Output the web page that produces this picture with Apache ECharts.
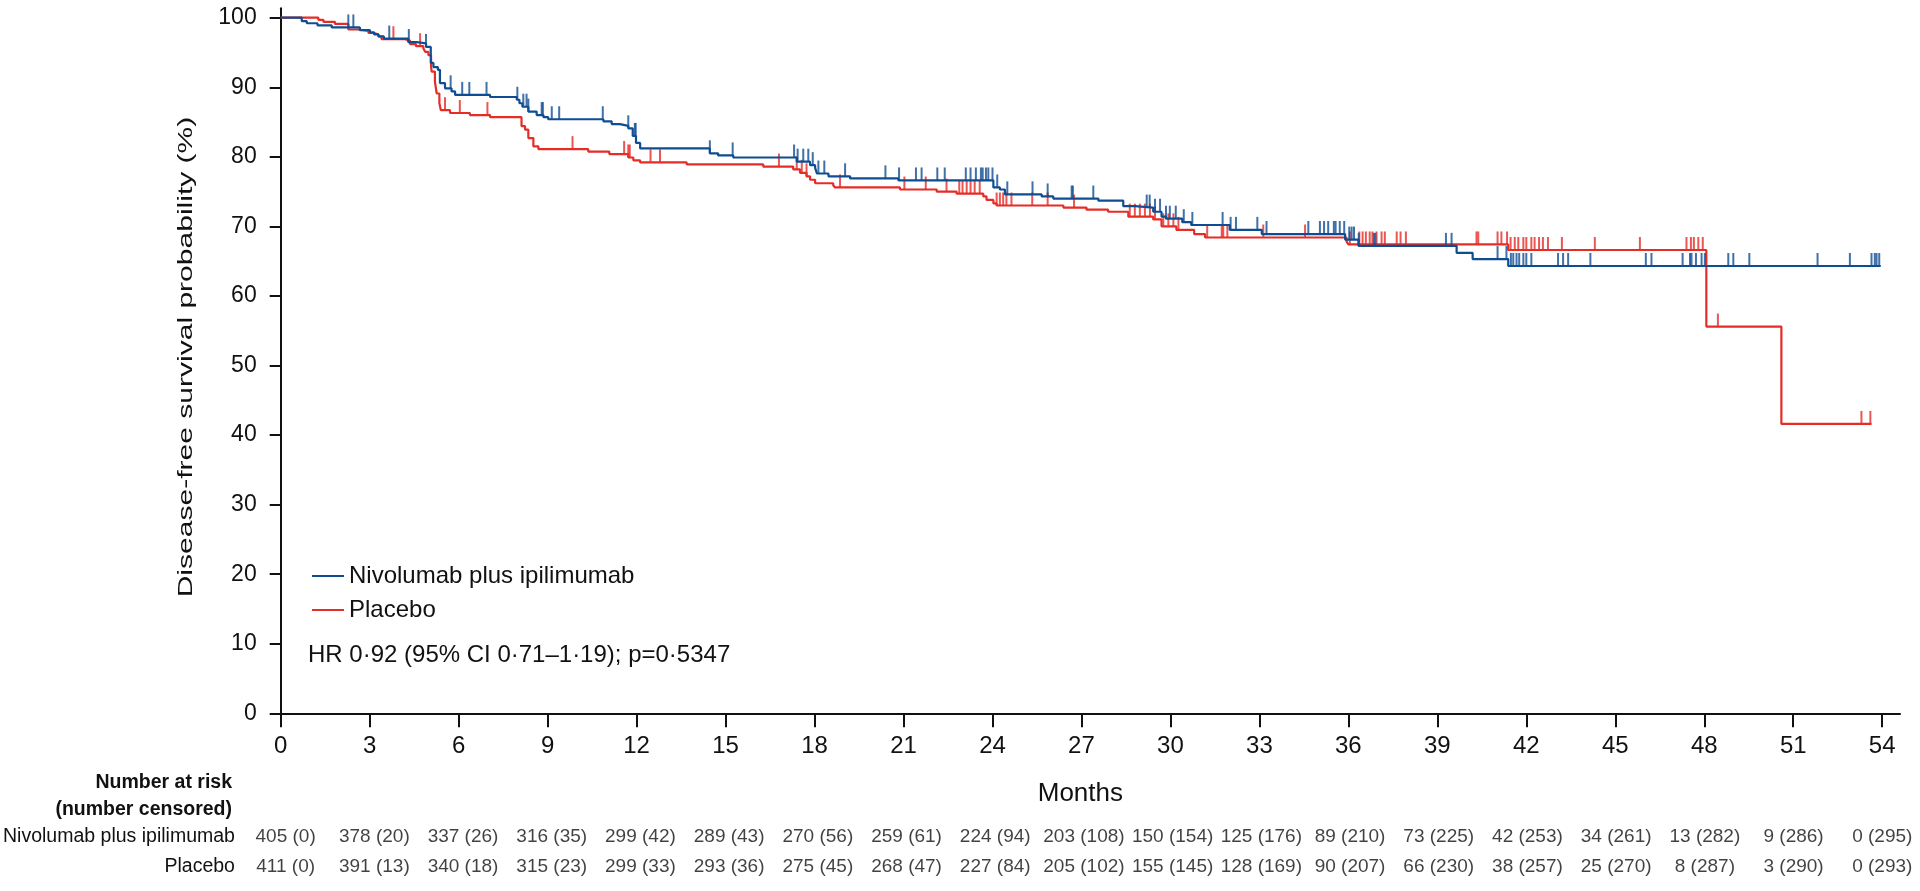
<!DOCTYPE html>
<html><head><meta charset="utf-8">
<script src="https://cdn.jsdelivr.net/npm/echarts@6/dist/echarts.min.js"></script>
<style>html,body{margin:0;padding:0;background:#fff}#c{width:1920px;height:891px}</style>
</head><body><div id="c"></div>
<script>
// ---------- data ----------
const monthTicks = [0,3,6,9,12,15,18,21,24,27,30,33,36,39,42,45,48,51,54];
const survTicks = [0,10,20,30,40,50,60,70,80,90,100];
const seriesNames = ['Nivolumab plus ipilimumab', 'Placebo'];

const nivoTimes = [0,0.71,0.88,1.24,1.72,2.67,3.01,3.15,3.3,3.48,4.3,4.58,4.9,5.06,5.15,5.3,5.37,5.54,5.76,5.88,7.06,7.96,8.05,8.15,8.35,8.63,8.86,9.02,10.88,11.16,11.44,11.72,11.87,11.98,12.12,14.47,14.75,15.26,17.4,17.85,18.02,18.08,18.47,19.2,20.83,24.03,24.25,24.42,25.66,26.05,27.57,28.41,28.81,29.42,29.7,29.85,30.4,30.7,32.0,33.08,35.89,36.34,39.65,40.19,41.39,53.95];
const nivoSurv = [100,99.5,99.2,98.9,98.6,98.2,97.9,97.6,97.3,97.0,96.5,96.3,95.8,93.5,92.9,92.5,90.6,89.85,89.4,88.9,88.6,88.2,87.7,87.2,86.5,86.0,85.7,85.4,85.1,84.7,84.45,84.1,83.0,82.0,81.2,80.5,80.2,79.9,79.3,78.8,78.4,77.6,77.2,76.9,76.6,75.6,75.3,74.6,74.3,74.0,73.7,72.9,72.7,72.1,71.4,71.1,70.6,70.2,69.5,68.9,68.1,67.2,66.2,65.3,64.3,64.3];

const placeboTimes = [0,1.27,1.44,1.83,2.28,2.62,2.96,3.13,3.29,3.4,4.19,4.36,4.56,4.81,4.87,4.98,5.07,5.09,5.2,5.26,5.35,5.4,5.71,6.38,7.06,8.12,8.24,8.35,8.52,8.69,10.37,11.08,11.72,11.89,12.12,13.69,16.27,17.28,17.51,17.73,17.85,18.02,18.63,18.69,20.88,22.12,22.79,23.69,23.8,24.03,24.14,26.39,27.17,27.9,28.58,29.42,29.7,30.2,30.8,31.17,35.94,36.0,41.39,48.07,50.6,53.64];
const placeboSurv = [100,99.7,99.4,99.1,98.3,98.1,97.8,97.6,97.3,96.9,96.7,96.2,95.9,95.6,95.1,94.6,93.0,92.25,90.8,89.1,87.7,86.7,86.3,86.0,85.7,84.4,83.9,82.7,81.5,81.1,80.75,80.4,79.9,79.5,79.2,78.9,78.6,78.2,77.7,77.2,76.7,76.2,75.9,75.6,75.3,75.0,74.7,74.3,73.8,73.3,73.0,72.7,72.4,72.1,71.4,71.0,70.0,69.5,68.9,68.4,67.8,67.4,66.6,55.6,41.6,41.6];

const nivoCensor = [2.28,2.45,3.66,4.32,4.9,5.37,5.73,6.12,6.36,6.94,7.98,8.18,8.29,8.35,8.8,8.84,9.14,9.39,10.86,11.72,11.94,11.97,14.47,15.24,17.31,17.43,17.62,17.79,17.94,18.13,18.33,19.03,20.39,20.85,21.42,21.61,22.14,22.39,23.1,23.26,23.44,23.61,23.67,23.78,23.86,24.0,24.16,24.5,25.35,25.86,26.67,26.71,27.4,29.2,29.3,29.48,29.65,29.85,29.98,30.18,30.45,30.74,31.76,32.03,32.21,32.93,33.24,34.65,35.04,35.18,35.32,35.51,35.57,35.71,35.86,36.03,36.11,36.19,36.35,36.86,36.91,39.29,39.48,41.03,41.33,41.48,41.56,41.67,41.76,41.9,42.0,42.17,43.07,43.24,43.41,44.16,46.03,46.22,47.27,47.52,47.57,47.72,47.91,48.02,48.81,48.98,49.52,51.82,52.91,53.64,53.75,53.81,53.9];
const placeboCensor = [3.8,4.7,5.54,6.04,6.97,9.84,11.58,11.72,11.77,12.47,12.79,16.8,17.4,17.57,17.73,18.86,21.03,21.75,22.45,22.88,22.99,23.13,23.26,23.4,23.57,24.14,24.25,24.36,24.47,24.64,25.34,25.86,26.75,28.63,28.8,28.97,29.14,29.31,29.48,29.76,29.93,30.1,30.27,31.24,31.73,31.78,31.92,33.13,34.54,36.05,36.37,36.48,36.59,36.72,36.81,36.95,37.12,37.23,37.63,37.76,37.94,40.32,40.38,41.03,41.16,41.35,41.47,41.61,41.73,41.9,42.0,42.17,42.28,42.43,42.56,42.73,43.2,44.31,45.83,47.4,47.55,47.65,47.8,47.95,48.46,53.3,53.6];

const nivoAtRisk = [405,378,337,316,299,289,270,259,224,203,150,125,89,73,42,34,13,9,0];
const nivoCensored = [0,20,26,35,42,43,56,61,94,108,154,176,210,225,253,261,282,286,295];
const placeboAtRisk = [411,391,340,315,299,293,275,268,227,205,155,128,90,66,38,25,8,3,0];
const placeboCensored = [0,13,18,23,33,36,45,47,84,102,145,169,207,230,257,270,287,290,293];

const hrText = 'HR 0\u00b792 (95% CI 0\u00b771\u20131\u00b719); p=0\u00b75347';
const yTitle = 'Disease-free survival probability (%)';
const xTitle = 'Months';

// ---------- build ----------
const BLUE = '#0f4d92', RED = '#e52d27', INK = '#111111';
const SANS = '"Liberation Sans", Arial, sans-serif';

function stepAt(times, surv, t) {
  let v = surv[0];
  for (let i = 0; i < times.length; i++) if (times[i] <= t) v = surv[i];
  return v;
}
const curve = (times, surv) => times.map((t, i) => [t, surv[i]]);
const marks = (c, times, surv) => c.map(t => [t, stepAt(times, surv, t)]);

const chart = echarts.init(document.getElementById('c'), null, {renderer: 'canvas'});
const option = {
  animation: false,
  backgroundColor: '#ffffff',
  grid: [
    {left: 280.7, right: 20, top: 8.3, bottom: 177.7},
    {left: 280.7, right: 20, top: 822, height: 60}
  ],
  legend: {
    data: seriesNames, orient: 'vertical', left: 307, top: 559,
    icon: 'rect', itemWidth: 32, itemHeight: 2, itemGap: 10,
    textStyle: {fontFamily: SANS, fontSize: 24, color: INK},
    selectedMode: false
  },
  xAxis: [
    {
      type: 'value', gridIndex: 0, min: 0, max: 54.6,
      name: xTitle, nameLocation: 'middle', nameGap: 68,
      nameTextStyle: {fontFamily: SANS, fontSize: 26, color: INK, padding: [0, 20, 0, 0]},
      axisLine: {show: true, onZero: false, lineStyle: {color: INK, width: 2}},
      axisTick: {show: true, customValues: monthTicks, length: 14, lineStyle: {color: INK, width: 2}},
      axisLabel: {customValues: monthTicks, margin: 21, fontFamily: SANS, fontSize: 24, color: INK},
      splitLine: {show: false}
    },
    {type: 'value', gridIndex: 1, min: 0, max: 54.6, show: false}
  ],
  yAxis: [
    {
      type: 'value', gridIndex: 0, min: 0, max: 101.35,
      axisLine: {show: true, onZero: false, lineStyle: {color: INK, width: 2}},
      axisTick: {show: true, customValues: survTicks, length: 11, lineStyle: {color: INK, width: 2}},
      axisLabel: {customValues: survTicks, margin: 24, fontFamily: SANS, fontSize: 23, color: INK},
      splitLine: {show: false}
    },
    {
      type: 'category', gridIndex: 1, inverse: true, data: seriesNames,
      axisLine: {show: false}, axisTick: {show: false},
      axisLabel: {margin: 50.7, fontFamily: SANS, fontSize: 19.5, color: INK}
    }
  ],
  series: [
    {
      name: seriesNames[1], type: 'line', step: 'end', symbol: 'none', z: 2,
      data: curve(placeboTimes, placeboSurv),
      lineStyle: {color: RED, width: 2.2}, itemStyle: {color: RED}
    },
    {
      name: seriesNames[0], type: 'line', step: 'end', symbol: 'none', z: 3,
      data: curve(nivoTimes, nivoSurv),
      lineStyle: {color: BLUE, width: 2.2}, itemStyle: {color: BLUE}
    },
    {
      name: 'placeboCensor', type: 'scatter', symbol: 'rect', symbolSize: [2, 13], symbolOffset: [0, -6.5], z: 2,
      data: marks(placeboCensor, placeboTimes, placeboSurv), itemStyle: {color: RED}
    },
    {
      name: 'nivoCensor', type: 'scatter', symbol: 'rect', symbolSize: [2, 13], symbolOffset: [0, -6.5], z: 3,
      data: marks(nivoCensor, nivoTimes, nivoSurv), itemStyle: {color: BLUE}
    },
    {
      name: 'atRiskNivo', type: 'scatter', xAxisIndex: 1, yAxisIndex: 1, symbolSize: 0,
      data: monthTicks.map(m => [m, seriesNames[0]]),
      label: {show: true, position: 'inside', fontFamily: SANS, fontSize: 19, color: INK,
        formatter: p => nivoAtRisk[p.dataIndex] + ' (' + nivoCensored[p.dataIndex] + ')'}
    },
    {
      name: 'atRiskPlacebo', type: 'scatter', xAxisIndex: 1, yAxisIndex: 1, symbolSize: 0,
      data: monthTicks.map(m => [m, seriesNames[1]]),
      label: {show: true, position: 'inside', fontFamily: SANS, fontSize: 19, color: INK,
        formatter: p => placeboAtRisk[p.dataIndex] + ' (' + placeboCensored[p.dataIndex] + ')'}
    }
  ],
  graphic: [
    {type: 'text', x: 186, y: 357, rotation: Math.PI / 2, scaleX: 1.43, scaleY: 1,
      style: {text: yTitle, font: '21px ' + SANS, fill: INK, align: 'center', verticalAlign: 'middle'}},
    {type: 'text', x: 308, y: 655,
      style: {text: hrText, font: '24px ' + SANS, fill: INK, align: 'left', verticalAlign: 'middle'}},
    {type: 'text', x: 232, y: 783,
      style: {text: 'Number at risk', font: 'bold 19.5px ' + SANS, fill: INK, align: 'right', verticalAlign: 'middle'}},
    {type: 'text', x: 232, y: 810,
      style: {text: '(number censored)', font: 'bold 19.5px ' + SANS, fill: INK, align: 'right', verticalAlign: 'middle'}}
  ]
};
chart.setOption(option);
</script>
</body></html>
